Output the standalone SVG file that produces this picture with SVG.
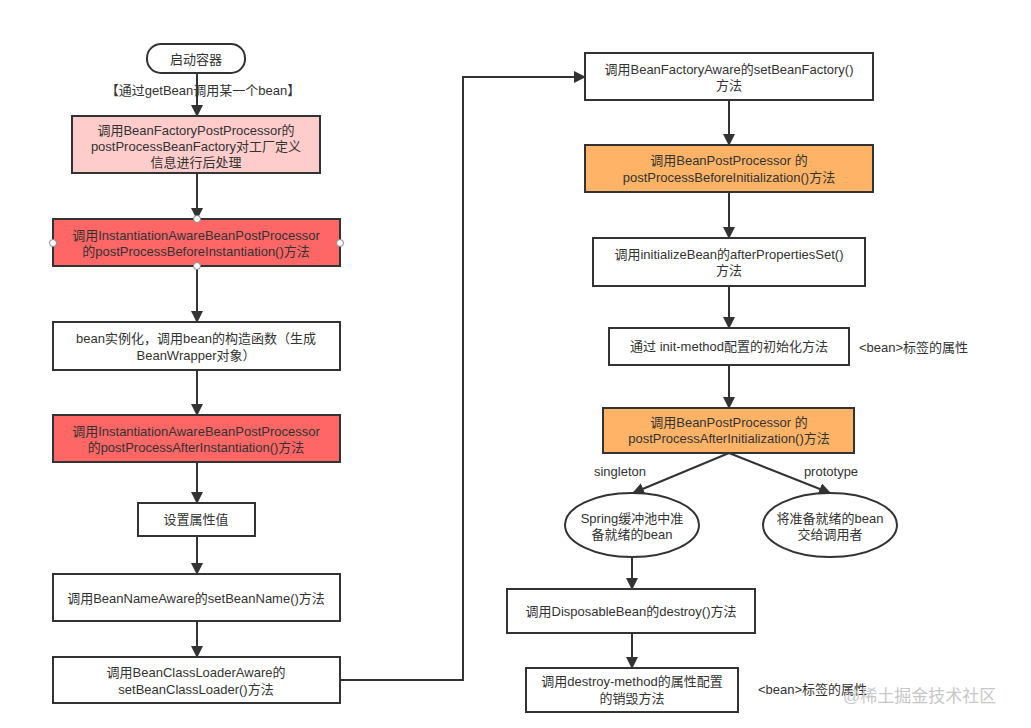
<svg xmlns="http://www.w3.org/2000/svg" width="1031" height="728" viewBox="0 0 1031 728">
<defs>
<marker id="arr" markerWidth="12" markerHeight="12" refX="11" refY="6" orient="auto" markerUnits="userSpaceOnUse">
<path d="M0,0 L12,6 L0,12 Z" fill="#333"/>
</marker>
<style>
.n{fill:#fff;stroke:#333;stroke-width:2}
.pink{fill:#FFCCCC}
.red{fill:#FF6666}
.orange{fill:#FFB366}
text{font-family:"Liberation Sans","Noto Sans CJK SC",sans-serif;font-size:13px;fill:#333;text-anchor:middle}
.c{fill:none;stroke:#333;stroke-width:2}
.h{fill:#fff;stroke:#888;stroke-width:1}
.l{text-anchor:start}
</style>
</defs>
<rect width="1031" height="728" fill="#fff"/>
<g id="connectors">
<line class="c" x1="197" y1="73" x2="197" y2="116" marker-end="url(#arr)"/>
<line class="c" x1="197" y1="173" x2="197" y2="219" marker-end="url(#arr)"/>
<line class="c" x1="197" y1="266" x2="197" y2="322" marker-end="url(#arr)"/>
<line class="c" x1="197" y1="370" x2="197" y2="415" marker-end="url(#arr)"/>
<line class="c" x1="197" y1="462" x2="197" y2="503" marker-end="url(#arr)"/>
<line class="c" x1="197" y1="536" x2="197" y2="574" marker-end="url(#arr)"/>
<line class="c" x1="197" y1="621" x2="197" y2="657" marker-end="url(#arr)"/>
<polyline class="c" points="340,680 463,680 463,77 585,77" marker-end="url(#arr)"/>
<line class="c" x1="729" y1="100" x2="729" y2="145" marker-end="url(#arr)"/>
<line class="c" x1="729" y1="192" x2="729" y2="238" marker-end="url(#arr)"/>
<line class="c" x1="729" y1="286" x2="729" y2="328" marker-end="url(#arr)"/>
<line class="c" x1="729" y1="365" x2="729" y2="408" marker-end="url(#arr)"/>
<line class="c" x1="729" y1="453" x2="633" y2="493" marker-end="url(#arr)"/>
<line class="c" x1="729" y1="453" x2="830" y2="493" marker-end="url(#arr)"/>
<line class="c" x1="632" y1="557" x2="632" y2="589" marker-end="url(#arr)"/>
<line class="c" x1="632" y1="633" x2="632" y2="668" marker-end="url(#arr)"/>
<text x="203" y="95">【通过getBean调用某一个bean】</text>
<text x="620" y="476">singleton</text>
<text x="831" y="476">prototype</text>
</g>
<g id="start">
<rect class="n" x="147" y="44" width="98" height="29" rx="14"/>
<text x="196" y="64">启动容器</text>
</g>
<g id="bfpp">
<rect class="n pink" x="72" y="116" width="248" height="57"/>
<text x="196" y="135">调用BeanFactoryPostProcessor的</text>
<text x="196" y="151">postProcessBeanFactory对工厂定义</text>
<text x="196" y="167">信息进行后处理</text>
</g>
<g id="before-inst">
<rect class="n red" x="53" y="219" width="287" height="47"/>
<text x="196" y="240">调用InstantiationAwareBeanPostProcessor</text>
<text x="196" y="256">的postProcessBeforeInstantiation()方法</text>
<circle class="h" cx="197" cy="219" r="3.5"/>
<circle class="h" cx="197" cy="266" r="3.5"/>
<circle class="h" cx="53" cy="243" r="3.5"/>
<circle class="h" cx="340" cy="243" r="3.5"/>
</g>
<g id="instantiate">
<rect class="n" x="53" y="322" width="287" height="48"/>
<text x="196" y="343">bean实例化，调用bean的构造函数（生成</text>
<text x="196" y="360">BeanWrapper对象）</text>
</g>
<g id="after-inst">
<rect class="n red" x="53" y="415" width="287" height="47"/>
<text x="196" y="436">调用InstantiationAwareBeanPostProcessor</text>
<text x="196" y="452">的postProcessAfterInstantiation()方法</text>
</g>
<g id="set-props">
<rect class="n" x="138" y="503" width="117" height="33"/>
<text x="196" y="524">设置属性值</text>
</g>
<g id="bean-name">
<rect class="n" x="53" y="574" width="287" height="47"/>
<text x="196" y="603">调用BeanNameAware的setBeanName()方法</text>
</g>
<g id="class-loader">
<rect class="n" x="53" y="657" width="287" height="46"/>
<text x="196" y="677">调用BeanClassLoaderAware的</text>
<text x="196" y="694">setBeanClassLoader()方法</text>
</g>
<g id="bean-factory">
<rect class="n" x="585" y="53" width="288" height="47"/>
<text x="729" y="74">调用BeanFactoryAware的setBeanFactory()</text>
<text x="729" y="90">方法</text>
</g>
<g id="before-init">
<rect class="n orange" x="585" y="145" width="288" height="47"/>
<text x="729" y="165">调用BeanPostProcessor 的</text>
<text x="729" y="182">postProcessBeforeInitialization()方法</text>
</g>
<g id="after-props">
<rect class="n" x="593" y="238" width="272" height="48"/>
<text x="729" y="259">调用initializeBean的afterPropertiesSet()</text>
<text x="729" y="275">方法</text>
</g>
<g id="init-method">
<rect class="n" x="609" y="328" width="240" height="37"/>
<text x="729" y="351">通过 init-method配置的初始化方法</text>
<text class="l" x="859" y="352">&lt;bean&gt;标签的属性</text>
</g>
<g id="after-init">
<rect class="n orange" x="603" y="408" width="251" height="45"/>
<text x="729" y="427">调用BeanPostProcessor 的</text>
<text x="729" y="443">postProcessAfterInitialization()方法</text>
</g>
<g id="singleton-pool">
<ellipse class="n" cx="632" cy="525" rx="67" ry="32"/>
<text x="632" y="523">Spring缓冲池中准</text>
<text x="632" y="539">备就绪的bean</text>
</g>
<g id="prototype-caller">
<ellipse class="n" cx="830" cy="525" rx="67" ry="32"/>
<text x="830" y="523">将准备就绪的bean</text>
<text x="830" y="539">交给调用者</text>
</g>
<g id="disposable">
<rect class="n" x="507" y="589" width="248" height="44"/>
<text x="631" y="616">调用DisposableBean的destroy()方法</text>
</g>
<g id="destroy-method">
<rect class="n" x="526" y="668" width="212" height="44"/>
<text x="632" y="686">调用destroy-method的属性配置</text>
<text x="632" y="703">的销毁方法</text>
<text class="l" x="758" y="694">&lt;bean&gt;标签的属性</text>
</g>
<text class="l" x="843" y="702" style="font-size:17px;fill:#c8c8c8">@稀土掘金技术社区</text>
</svg>
